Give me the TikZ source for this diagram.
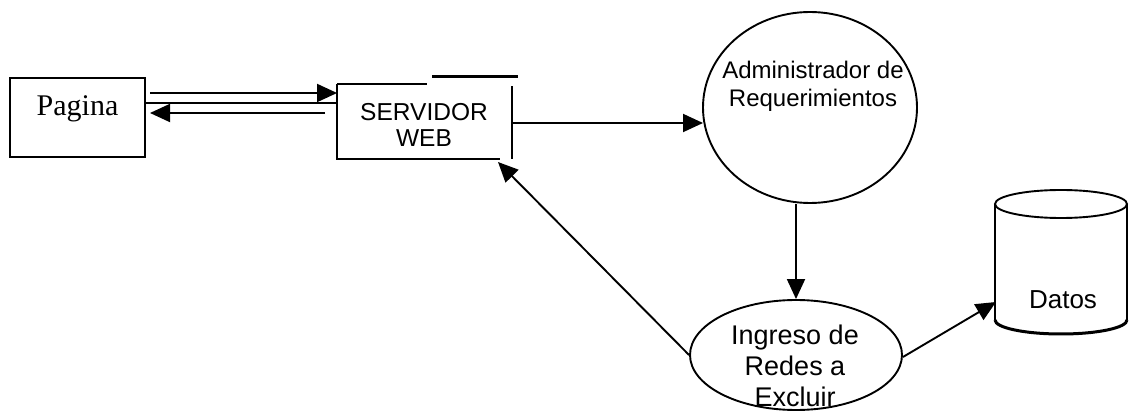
\documentclass[tikz,border=0pt]{standalone}
\usepackage{fontspec}
\setmainfont{Liberation Serif}
\newfontfamily\arialf{Liberation Sans}
\usetikzlibrary{arrows.meta,shapes.geometric,calc}
\begin{document}
\begin{tikzpicture}[x=1pt,y=-1pt,
  line width=1.9pt,
  arr/.style={-{Triangle[length=20pt,width=18pt]}},
  boxnode/.style={draw,rectangle,inner sep=0pt},
  ellnode/.style={draw,ellipse,inner sep=0pt},
  lbl/.style={font=\arialf, align=center, inner sep=0pt}]
\useasboundingbox (0,0) rectangle (1129,411);
% Pagina
\node[boxnode, minimum width=135pt, minimum height=79pt] (pagina) at (77.5,117.5) {};
\node[font=\fontsize{30}{31}\selectfont, inner sep=0pt] (paginatxt) at (77.5,109) {Pagina};
% Servidor web
\node[rectangle, minimum width=173pt, minimum height=73pt, inner sep=0pt] (servidor) at (424.5,121.5) {};
\draw (servidor.north west) -- ++(90,0);
\draw (servidor.north west) -- (servidor.south west) -- ($(servidor.south east)+(-12,0)$);
\draw ($(servidor.north east)+(0,2)$) -- (servidor.south east);
\draw[line width=3pt] (432,77) -- (518,77);
\node[lbl, font=\arialf\fontsize{24.5}{26}\selectfont] (servtxt) at (424,125) {SERVIDOR\\WEB};
% Administrador
\node[ellnode, minimum width=214pt, minimum height=191pt] (admin) at (810,107.5) {};
\node[lbl, font=\arialf\fontsize{24}{28}\selectfont] (admintxt) at (813,86) {Administrador de\\Requerimientos};
% Ingreso
\node[ellnode, minimum width=212pt, minimum height=110pt] (ingreso) at (796,355) {};
\node[lbl, font=\arialf\fontsize{27}{31}\selectfont] (ingtxt) at (795,366) {Ingreso de\\Redes a\\Excluir};
% Datos cylinder
\draw (1061,204) ellipse [x radius=66, y radius=14];
\draw (995,204) -- (995,320);
\draw (1127,204) -- (1127,320);
\draw[line width=3pt] (995,320) arc[start angle=180, end angle=0, x radius=66, y radius=14];
\node[lbl, font=\arialf\fontsize{26}{30}\selectfont] (datos) at (1063,300) {Datos};
% connectors
\coordinate (p1) at (150,93);
\coordinate (p2) at (145,103);
\coordinate (p3) at (325,113);
\coordinate (p3tip) at (150,113);
\draw[arr] (p1) -- (p1 -| servidor.west);
\draw (p2) -- (p2 -| servidor.west);
\draw[arr] (p3) -- (p3tip);
\coordinate (admin-in) at (703,123);
\draw[arr] (servidor.east |- admin-in) -- (admin-in);
\draw[arr] (admin.south -| ingreso.north) -- (ingreso.north);
\coordinate (servin) at (498,162);
\draw[arr] (ingreso.west) -- (servin);
\coordinate (datosin) at (996,302);
\draw[arr] ($(ingreso.east)+(0,2)$) -- (datosin);
\end{tikzpicture}
\end{document}
